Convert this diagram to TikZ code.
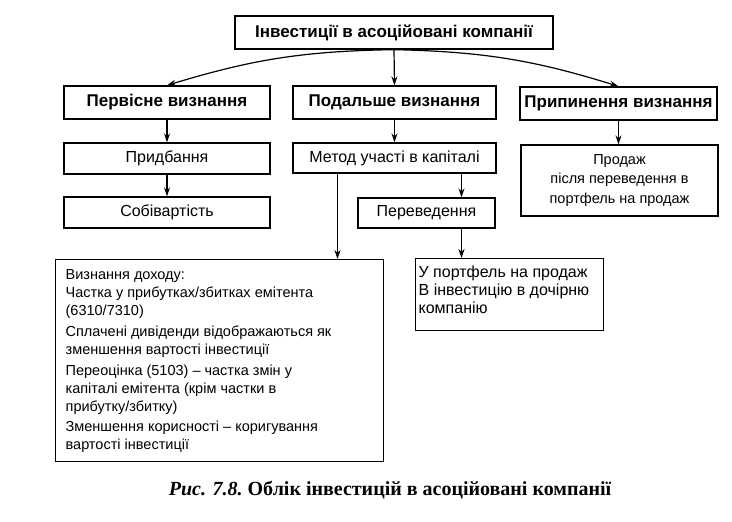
\documentclass[tikz,border=0pt]{standalone}
\usepackage{fontspec}
\setmainfont{Liberation Sans}
\newfontfamily\capfont{Liberation Serif}
\usetikzlibrary{arrows.meta}

\begin{document}
\begin{tikzpicture}[x=1pt,y=-1pt,
  box/.style={draw,line width=1.3pt,inner sep=0pt,align=center,
    font=\fontsize{16}{18}\selectfont},
  hbox/.style={box,font=\fontsize{17}{20}\selectfont\bfseries},
  tbox/.style={draw,line width=1.3pt,anchor=north west,inner xsep=10pt,
    inner ysep=6pt,align=left},
  arr/.style={line width=1.2pt,-{Stealth[length=9pt,width=6pt]}}]
  \useasboundingbox (0,0) rectangle (732,522);
  % top level
  \node[hbox,minimum width=318pt,minimum height=33pt] (top) at (394,32.5)
    {Інвестиції в асоційовані компанії};
  \node[hbox,minimum width=206pt,minimum height=33pt] (perv) at (167,102.5)
    {Первісне визнання};
  \node[hbox,minimum width=203pt,minimum height=33pt] (podal) at (394.5,102.5)
    {Подальше визнання};
  \node[hbox,minimum width=197pt,minimum height=33pt] (pryp) at (618.5,103.5)
    {Припинення визнання};
  % second level
  \node[box,minimum width=206pt,minimum height=31pt] (prydb) at (167,158.5)
    {Придбання};
  \node[box,minimum width=203pt,minimum height=30pt] (metod) at (394.5,158)
    {Метод участі в капіталі};
  \node[box,font=\fontsize{14.5}{19.5}\selectfont,minimum width=197pt,
    minimum height=71pt] (prodazh) at (619.5,180.5)
    {Продаж\\ після переведення в\\ портфель на продаж};
  \node[box,minimum width=206pt,minimum height=31pt] (sobiv) at (167,212.5)
    {Собівартість};
  \node[box,minimum width=137pt,minimum height=30pt] (pereved) at (426.5,213)
    {Переведення};
  % text boxes
  \node[tbox,inner ysep=10pt,font=\fontsize{14.5}{18}\selectfont] (income) at (55,259)
    {\parbox[t][182pt][t]{308pt}{\raggedright
     Визнання доходу:\\
     Частка у прибутках/збитках емітента\\
     (6310/7310)\\[2.7pt]
     Сплачені дивіденди відображаються як\\
     зменшення вартості інвестиції\\[2.7pt]
     Переоцінка (5103) -- частка змін у\\
     капіталі емітента (крім частки в\\
     прибутку/збитку)\\[2.7pt]
     Зменшення корисності -- коригування\\
     вартості інвестиції}};
  \node[tbox,inner xsep=3pt,inner ysep=7pt,font=\fontsize{16}{18}\selectfont] (small) at (415,258)
    {\parbox[t][58pt][t]{182pt}{\raggedright
     У портфель на продаж\\
     В інвестицію в дочірню\\
     компанію}};
  % caption
  \node[font=\capfont\fontsize{20}{24}\selectfont\bfseries] (cap) at (390,490)
    {\itshape Рис. 7.8.\upshape\ Облік інвестицій в асоційовані компанії};
  % arrows
  \draw[arr] (top.south) to[bend right=8] (perv.north);
  \draw[arr] (top.south) -- (podal.north);
  \draw[arr] (top.south) to[bend left=8] (pryp.north);
  \draw[arr] (perv) -- (prydb);
  \draw[arr] (prydb) -- (sobiv);
  \draw[arr] (podal) -- (metod);
  \draw[arr] (pryp.south) -- (pryp.south |- prodazh.north);
  \coordinate (c1) at ([xshift=-57pt]metod.south);
  \coordinate (c2) at ([xshift=35pt]pereved.north);
  \draw[arr] (c1) -- (c1 |- income.north);
  \draw[arr] (c2 |- metod.south) -- (c2);
  \draw[arr] (c2 |- pereved.south) -- (c2 |- small.north);
\end{tikzpicture}
\end{document}
